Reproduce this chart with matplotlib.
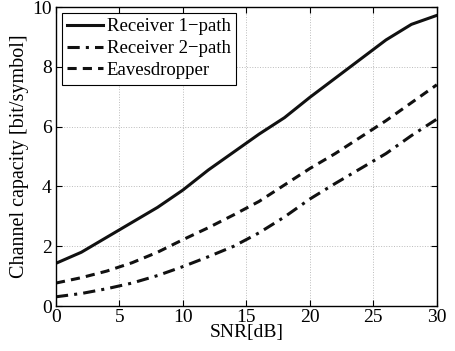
import matplotlib
matplotlib.use("Agg")
import matplotlib.pyplot as plt

plt.rcParams["font.family"] = ["Liberation Serif", "DejaVu Serif"]

snr = [0, 2, 4, 6, 8, 10, 12, 14, 16, 18, 20, 22, 24, 26, 28, 30]
recv1 = [1.43, 1.8, 2.3, 2.8, 3.3, 3.88, 4.55, 5.15, 5.75, 6.3, 6.98, 7.62, 8.26, 8.9, 9.42, 9.72]
recv2 = [0.31, 0.42, 0.58, 0.77, 1.02, 1.32, 1.65, 2.0, 2.45, 2.98, 3.58, 4.1, 4.6, 5.1, 5.7, 6.25]
eave = [0.77, 0.95, 1.17, 1.45, 1.8, 2.22, 2.62, 3.05, 3.5, 4.05, 4.6, 5.1, 5.65, 6.2, 6.8, 7.4]

fig = plt.figure(figsize=(4.55, 3.51), dpi=100)
ax = fig.add_axes([0.123, 0.128, 0.837, 0.852])

ax.plot(snr, recv1, color="#111111", lw=2.2, ls="-", label="Receiver 1\u2212path")
ax.plot(snr, recv2, color="#111111", lw=2.2, ls=(0, (4, 2, 1, 2)), label="Receiver 2\u2212path")
ax.plot(snr, eave, color="#111111", lw=2.2, ls=(0, (3, 2)), label="Eavesdropper")

ax.set_xlim(0, 30)
ax.set_ylim(0, 10)
ax.set_xticks(range(0, 31, 5))
ax.set_yticks(range(0, 11, 2))
ax.grid(True, color="#bbbbbb", ls=":", lw=0.7)
ax.tick_params(direction="in", top=True, right=True, labelsize=14, length=4)
ax.tick_params(axis="x", pad=2)
ax.tick_params(axis="y", pad=3)
for s in ax.spines.values():
    s.set_linewidth(1.0)

ax.set_xlabel("SNR[dB]", fontsize=14, labelpad=-1)
ax.set_ylabel("Channel capacity [bit/symbol]", fontsize=14.5, labelpad=2)

leg = ax.legend(loc="upper left", fontsize=13.5, fancybox=False, edgecolor="black",
                framealpha=1, handlelength=1.9, borderaxespad=0.3,
                borderpad=0.3, labelspacing=0.25, handletextpad=0.2)
leg.get_frame().set_linewidth(0.8)

fig.savefig("out.png", dpi=100)
